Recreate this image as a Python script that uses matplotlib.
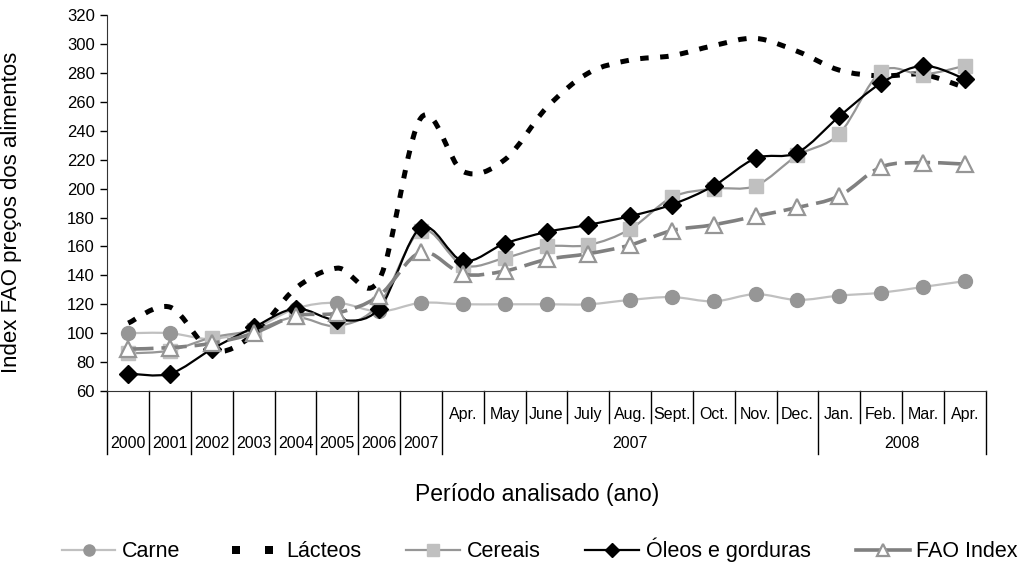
import matplotlib
matplotlib.use("Agg")
import matplotlib.pyplot as plt
from matplotlib.path import Path
from matplotlib.patches import PathPatch
from matplotlib.lines import Line2D
from matplotlib.legend_handler import HandlerLine2D
import numpy as np

plt.rcParams['font.family'] = ['Liberation Sans', 'DejaVu Sans']

# ---- data ----
categories = ["2000", "2001", "2002", "2003", "2004", "2005", "2006", "2007",
              "Apr.", "May", "June", "July", "Aug.", "Sept.", "Oct.", "Nov.", "Dec.",
              "Jan.", "Feb.", "Mar.", "Apr."]
n_years = 8
group_labels = ["2007", "2008"]
group_spans = [(8, 16), (17, 20)]

carne = [100, 100, 96, 103, 117, 121, 115, 121,
         120, 120, 120, 120, 123, 125, 122, 127, 123, 126, 128, 132, 136]
lacteos = [107, 118, 88, 99, 131, 145, 137, 249,
           212, 220, 256, 280, 289, 292, 299, 304, 295, 282, 278, 279, 270]
cereais = [86, 88, 97, 102, 111, 105, 120, 171,
           147, 152, 160, 161, 172, 194, 200, 202, 223, 238, 281, 279, 285]
oleos = [72, 72, 89, 104, 117, 109, 117, 173,
         150, 162, 170, 175, 181, 189, 202, 221, 225, 250, 273, 285, 276]
fao = [89, 90, 93, 100, 112, 114, 126, 156,
       141, 143, 151, 155, 161, 171, 175, 181, 187, 195, 215, 218, 217]

series_names = ["Carne", "Lácteos", "Cereais", "Óleos e gorduras", "FAO Index"]


def smooth_path(x, y):
    """Excel-style smoothed line (Catmull-Rom as cubic Bezier)."""
    pts = np.column_stack([x, y]).astype(float)
    n = len(pts)
    verts = [pts[0]]
    codes = [Path.MOVETO]
    for i in range(n - 1):
        p0 = pts[i - 1] if i > 0 else pts[i]
        p1 = pts[i]
        p2 = pts[i + 1]
        p3 = pts[i + 2] if i + 2 < n else pts[i + 1]
        c1 = p1 + (p2 - p0) / 6.0
        c2 = p2 - (p3 - p1) / 6.0
        verts += [c1, c2, p2]
        codes += [Path.CURVE4] * 3
    return Path(verts, codes)


fig = plt.figure(figsize=(10.24, 5.65), dpi=100)
ax_left, ax_right = 0.1048, 0.9626
ax_bottom, ax_height = 0.308, 0.665
ax = fig.add_axes([ax_left, ax_bottom, ax_right - ax_left, ax_height])

x = np.arange(len(categories))

styles = [
    dict(name="Carne", data=carne, lc="#C0C0C0", lw=1.6, ls="-", marker="o", ms=10,
         mfc="#969696", mec="#969696", mew=1),
    dict(name="Lácteos", data=lacteos, lc="black", lw=3.6, ls=(0, (1.7, 2.3)), marker=None),
    dict(name="Cereais", data=cereais, lc="#969696", lw=1.6, ls="-", marker="s", ms=10,
         mfc="#C0C0C0", mec="#C0C0C0", mew=1),
    dict(name="Óleos e gorduras", data=oleos, lc="black", lw=1.6, ls="-", marker="D", ms=9,
         mfc="black", mec="black", mew=1),
    dict(name="FAO Index", data=fao, lc="#808080", lw=2.6, ls=(0, (7, 2.2)), marker="^", ms=11,
         mfc="white", mec="#969696", mew=1.6),
]

handles = []
handler_map = {}
for z, s in enumerate(styles):
    patch = PathPatch(smooth_path(x, s["data"]), fill=False, edgecolor=s["lc"],
                      lw=s["lw"], linestyle=s["ls"], zorder=2 + z * 2, capstyle='butt')
    ax.add_patch(patch)
    if s["marker"]:
        ax.plot(x, s["data"], linestyle="none", marker=s["marker"], ms=s["ms"],
                mfc=s["mfc"], mec=s["mec"], mew=s["mew"], zorder=3 + z * 2)
        h = Line2D([], [], color=s["lc"], lw=s["lw"] if s["name"] != "FAO Index" else 2.6,
                   ls="-", marker=s["marker"], ms=s["ms"] * 0.8,
                   mfc=s["mfc"], mec=s["mec"], mew=s["mew"])
    else:
        h = Line2D([], [], color=s["lc"], ls="none", marker="s", ms=5.5, mew=0)
        handler_map[h] = HandlerLine2D(numpoints=2, marker_pad=0.5)
    handles.append(h)

ax.set_xlim(-0.5, len(categories) - 0.5)
ax.set_ylim(60, 320)
ax.set_yticks(np.arange(60, 321, 20))
ax.tick_params(axis='y', direction='out', length=5, width=1, labelsize=12, pad=4)
ax.set_xticks([])
for sp in ["top", "right"]:
    ax.spines[sp].set_visible(False)
ax.spines["left"].set_color("#333333")
ax.spines["bottom"].set_color("#333333")

# ---- multi-level category axis ----
tr = ax.get_xaxis_transform()
ax_h_px = ax_height * 565
ax_w_px = (ax_right - ax_left) * 1024
def py(px):
    return -px / ax_h_px

full = py(63)
half = py(32)
month_y = py(24)
year_y = py(53)

boundaries = np.arange(len(categories) + 1) - 0.5
group_bounds = {n_years - 0.5, group_spans[0][1] + 0.5, group_spans[1][1] + 0.5}
for i, b in enumerate(boundaries):
    if i <= n_years or b in group_bounds:
        y1 = full
    else:
        y1 = half
    ax.plot([b, b], [0, y1], transform=tr, color="black", lw=1, clip_on=False)

for i, c in enumerate(categories):
    if i < n_years:
        ax.text(i, year_y, c, transform=tr, ha="center", va="center", fontsize=11.5)
    else:
        ax.text(i, month_y, c, transform=tr, ha="center", va="center", fontsize=11.5)
for g, (a, b) in zip(group_labels, group_spans):
    ax.text((a + b) / 2, year_y, g, transform=tr, ha="center", va="center", fontsize=11.5)

ax.set_ylabel("Index FAO preços dos alimentos", fontsize=16)
ax.yaxis.set_label_coords((22 - 107.3) / ax_w_px, (565 - 212 - ax_bottom * 565) / ax_h_px)
fig.text(0.525, 1 - 495 / 565, "Período analisado (ano)", ha="center", va="center", fontsize=16.5)

fig.legend(handles, series_names, loc="center", bbox_to_anchor=(0.527, 1 - 550 / 565),
           ncol=5, frameon=False, fontsize=15.5, handlelength=2.5, columnspacing=2.1,
           handletextpad=0.3, handler_map=handler_map)

fig.savefig("out.png", dpi=100)
